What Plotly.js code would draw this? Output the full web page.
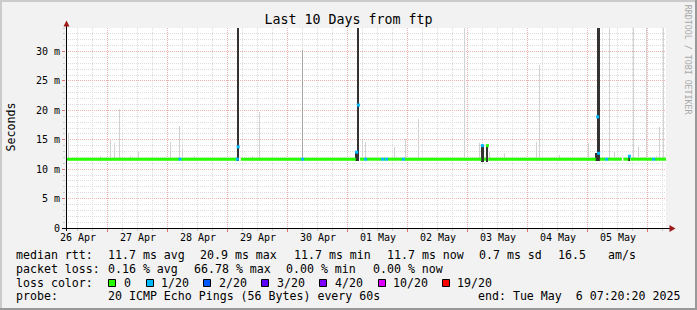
<!DOCTYPE html>
<html><head><meta charset="utf-8">
<script src="https://cdn.plot.ly/plotly-3.0.1.min.js"></script>
<style>html,body{margin:0;padding:0;background:#f2f2f2;overflow:hidden}#chart{width:697px;height:310px}</style>
</head><body><div id="chart"></div>
<script>
// ---------------- data ----------------
const chartTitle = 'Last 10 Days from ftp';
const yTitle = 'Seconds';
const xStart = '2025-04-26 07:20:20';
const xEnd = '2025-05-06 07:20:20';

const dayGridTimes = ['2025-04-27','2025-04-28','2025-04-29','2025-04-30','2025-05-01',
  '2025-05-02','2025-05-03','2025-05-04','2025-05-05','2025-05-06'];
const dayLabelTimes = ['2025-04-26 12:00','2025-04-27 12:00','2025-04-28 12:00','2025-04-29 12:00',
  '2025-04-30 12:00','2025-05-01 12:00','2025-05-02 12:00','2025-05-03 12:00','2025-05-04 12:00','2025-05-05 12:00'];
const dayLabels = ['26 Apr','27 Apr','28 Apr','29 Apr','30 Apr','01 May','02 May','03 May','04 May','05 May'];

const yTickVals = [0, 5, 10, 15, 20, 25, 30];           // ms
const yTickLabels = ['0', '5 m', '10 m', '15 m', '20 m', '25 m', '30 m'];

// median rtt (ms) drawn with 0 loss; null = no value (gap)
const medianTimes = [
  '2025-04-26 07:20:20',
  '2025-04-28 04:34','2025-04-28 04:58','2025-04-28 05:22',
  '2025-04-29 03:41','2025-04-29 04:12','2025-04-29 05:17',
  '2025-04-30 05:36','2025-04-30 06:00','2025-04-30 06:24',
  '2025-05-01 03:17','2025-05-01 04:10','2025-05-01 04:58',
  '2025-05-01 06:48','2025-05-01 07:12','2025-05-01 07:36',
  '2025-05-01 13:36','2025-05-01 14:00','2025-05-01 14:24',
  '2025-05-01 15:12','2025-05-01 15:36','2025-05-01 16:00',
  '2025-05-01 21:53','2025-05-01 22:17','2025-05-01 22:41',
  '2025-05-03 05:29','2025-05-03 05:58','2025-05-03 06:29',
  '2025-05-03 07:24','2025-05-03 07:48','2025-05-03 08:17',
  '2025-05-05 03:17','2025-05-05 04:12','2025-05-05 04:53',
  '2025-05-05 07:12','2025-05-05 07:36','2025-05-05 08:00',
  '2025-05-05 13:41','2025-05-05 14:00','2025-05-05 14:17',
  '2025-05-05 16:17','2025-05-05 16:41','2025-05-05 17:05',
  '2025-05-06 02:00','2025-05-06 02:24','2025-05-06 02:48',
  '2025-05-06 07:20:20'];
const medianValues = [
  11.7,
  11.7,null,11.7,
  11.7,null,11.7,
  11.7,null,11.7,
  11.7,null,11.7,
  11.7,null,11.7,
  11.7,null,11.7,
  11.7,null,11.7,
  11.7,null,11.7,
  11.7,null,11.7,
  11.7,null,11.7,
  11.7,null,11.7,
  11.7,null,11.7,
  11.7,null,11.7,
  11.7,null,11.7,
  11.7,null,11.7,
  11.7];

// isolated median samples and their loss (pings lost of 20)
const medianPointTimes = ['2025-04-28 04:58','2025-04-29 03:53','2025-04-29 04:12','2025-04-30 06:00',
  '2025-05-01 03:36','2025-05-01 04:17','2025-05-01 07:12','2025-05-01 14:00','2025-05-01 15:36',
  '2025-05-01 22:17','2025-05-03 05:53','2025-05-03 07:53','2025-05-05 04:00','2025-05-05 04:24',
  '2025-05-05 07:36','2025-05-05 16:41','2025-05-06 02:24'];
const medianPointValues = [11.7, 11.7, 13.8, 11.7, 12.9, 20.9, 11.7, 11.7, 11.7,
  11.7, 14.0, 14.0, 18.9, 12.7, 11.7, 12.2, 11.7];
const medianPointLoss = [1, 1, 1, 1, 1, 1, 1, 1, 1, 1, 1, 0, 1, 1, 1, 1, 1];

// smoke (spread of the 20 pings), ms
const smokeLightTimes = ['2025-04-26 08:17','2025-04-26 21:05','2025-04-27 01:05','2025-04-27 02:34',
  '2025-04-27 04:34','2025-04-27 09:12','2025-04-27 12:17','2025-04-28 01:12','2025-04-28 04:34',
  '2025-04-28 05:53','2025-04-28 10:34','2025-04-29 09:53','2025-04-29 12:34','2025-05-01 05:53',
  '2025-05-01 06:58','2025-05-01 18:48','2025-05-01 23:12','2025-05-02 04:17','2025-05-02 22:48',
  '2025-05-03 04:34','2025-05-03 08:34','2025-05-03 14:34','2025-05-04 03:36','2025-05-04 04:34',
  '2025-05-04 12:34','2025-05-05 00:10','2025-05-05 08:34','2025-05-05 10:34','2025-05-05 18:17',
  '2025-05-05 20:10','2025-05-05 23:29','2025-05-06 03:22','2025-05-06 04:34','2025-05-06 06:10'];
const smokeLightHigh = [16.2, 12.3, 15.0, 14.4, 20.2, 12.3, 13.0, 14.6, 17.3, 13.5, 12.3, 12.2, 19.7,
  14.9, 14.7, 13.8, 15.2, 18.6, 36, 14.4, 12.9, 12.7, 14.6, 27.7, 12.4, 14.4, 36, 12.9, 36, 13.8, 36,
  12.3, 17.2, 36];
const smokeLightLow = smokeLightHigh.map(() => 11.4);

const smokeMidTimes = ['2025-04-30 05:53'];
const smokeMidHigh = [30.2];
const smokeMidLow = [11.4];

const smokeDarkTimes = ['2025-04-29 04:12','2025-05-01 03:24','2025-05-01 04:10','2025-05-03 05:58',
  '2025-05-03 07:48','2025-05-05 03:24','2025-05-05 04:22','2025-05-05 16:36'];
const smokeDarkHigh = [36, 13.0, 36, 14.1, 14.1, 12.8, 36, 12.4];
const smokeDarkLow = [11.4, 11.4, 11.4, 11.3, 11.3, 11.4, 11.4, 11.4];

// legend
const lossLabels = ['0', '1/20', '2/20', '3/20', '4/20', '10/20', '19/20'];
const lossColors = ['#26ff00', '#00b8ff', '#0059ff', '#5e00ff', '#7e00ff', '#dd00ff', '#ff0000'];
const rttHead = 'median rtt:';
const rttStats = ['11.7 ms avg', '20.9 ms max', '11.7 ms min', '11.7 ms now', '0.7 ms sd', '16.5', 'am/s'];
const lossHead = 'packet loss:';
const lossStats = ['0.16 % avg', '66.78 % max', '0.00 % min', '0.00 % now'];
const colorHead = 'loss color:';
const probeHead = 'probe:';
const probeText = '20 ICMP Echo Pings (56 Bytes) every 60s';
const endText = 'end: Tue May  6 07:20:20 2025';
const watermark = 'RRDTOOL / TOBI OETIKER';

// ---------------- drawing ----------------
const FONT = 'DejaVu Sans Mono';
const L = 66, T = 28, W = 600, H = 200;
const px2x = p => (p - L) / W;
const py2y = p => (T + H - p) / H;
const PX_MS = 1440000; // one pixel of time
const nb = s => s.replace(/ /g, '\u00a0');

const traces = [];
function smoke(times, low, high, color, w) {
  traces.push({type: 'bar', x: times, base: low, y: high.map((h, i) => h - low[i]),
    width: times.map(() => w * PX_MS), marker: {color: color, line: {width: 0}},
    hoverinfo: 'skip'});
}
smoke(smokeLightTimes, smokeLightLow, smokeLightHigh, '#d2d2d2', 1);
smoke(smokeMidTimes, smokeMidLow, smokeMidHigh, '#a6a6a6', 1);
smoke(smokeDarkTimes, smokeDarkLow, smokeDarkHigh, '#333333', 2.3);

traces.push({type: 'scatter', mode: 'lines', x: medianTimes, y: medianValues,
  line: {color: lossColors[0], width: 3}, connectgaps: false, hoverinfo: 'skip'});

lossColors.forEach((c, k) => {
  const xs = [], ys = [];
  medianPointLoss.forEach((l, i) => { if (l === k) { xs.push(medianPointTimes[i]); ys.push(medianPointValues[i]); } });
  if (xs.length) traces.push({type: 'scatter', mode: 'markers', x: xs, y: ys,
    marker: {symbol: 'square', size: 3, color: c, line: {width: 0}}, hoverinfo: 'skip'});
});

const ann = [];
function txt(text, px, py, size, extra) {
  ann.push(Object.assign({text: nb(text), xref: 'paper', yref: 'paper', x: px2x(px), y: py2y(py),
    xanchor: 'left', yanchor: 'middle', showarrow: false, borderpad: 0, borderwidth: 0,
    font: {family: FONT, size: size, color: '#000'}}, extra || {}));
}
dayLabels.forEach((d, i) => ann.push({text: nb(d), xref: 'x', x: dayLabelTimes[i], yref: 'paper',
  y: py2y(237.5), xanchor: 'center', yanchor: 'middle', showarrow: false, borderpad: 0, borderwidth: 0,
  font: {family: FONT, size: 10, color: '#000'}}));

const LF = 11.6;
txt(yTitle, 10.5, 127, LF, {xanchor: 'center', textangle: -90});
txt(watermark, 688.3, 60, 8.3, {xanchor: 'center', textangle: 90, font: {family: FONT, size: 8.3, color: '#a8a8a8'}});

txt(rttHead, 16, 255, LF);
[107.7, 200.3, 294, 386.7, 479, 557.5, 607.7].forEach((x, i) => txt(rttStats[i], x, 255, LF));
txt(lossHead, 16, 268.5, LF);
[107.7, 193.5, 286, 372.7].forEach((x, i) => txt(lossStats[i], x, 268.5, LF));
txt(colorHead, 16, 282.5, LF);
const squareX = [108, 145.7, 203.3, 261, 319, 377.7, 441.7];
const shapes = [];
lossLabels.forEach((lab, i) => {
  txt(lab, squareX[i] + 15.5, 282.5, LF);
  shapes.push({type: 'rect', xref: 'paper', yref: 'paper', x0: px2x(Math.round(squareX[i]) + 0.5),
    x1: px2x(Math.round(squareX[i]) + 7.5), y0: py2y(279.5), y1: py2y(286.5),
    fillcolor: lossColors[i], line: {color: '#000', width: 1}});
});
txt(probeHead, 16, 296, LF);
txt(probeText, 107.7, 296, LF);
txt(endText, 478, 296, LF);

// frame
function prect(x0, y0, x1, y1, c) {
  shapes.push({type: 'rect', xref: 'paper', yref: 'paper', x0: px2x(x0), x1: px2x(x1),
    y0: py2y(y0), y1: py2y(y1), fillcolor: c, line: {width: 0}});
}
prect(0, 0, 697, 2, '#cbcbcb');
prect(0, 0, 2, 310, '#cbcbcb');
prect(0, 308, 697, 310, '#999999');
prect(695, 0, 697, 310, '#999999');
// axes lines + arrows
shapes.push({type: 'line', xref: 'paper', yref: 'paper', x0: px2x(66.5), x1: px2x(66.5), y0: py2y(231), y1: py2y(24), line: {color: '#000', width: 1}});
shapes.push({type: 'line', xref: 'paper', yref: 'paper', x0: px2x(62), x1: px2x(670), y0: py2y(228.5), y1: py2y(228.5), line: {color: '#000', width: 1}});
shapes.push({type: 'path', xref: 'paper', yref: 'paper', fillcolor: '#9e1b1b', line: {width: 0},
  path: `M${px2x(63.5)},${py2y(26.5)} L${px2x(69.5)},${py2y(26.5)} L${px2x(66.5)},${py2y(20.5)} Z`});
shapes.push({type: 'path', xref: 'paper', yref: 'paper', fillcolor: '#9e1b1b', line: {width: 0},
  path: `M${px2x(669.5)},${py2y(225)} L${px2x(669.5)},${py2y(232)} L${px2x(675.5)},${py2y(228.5)} Z`});

const MAJ = '#f3b0b0', MIN = '#dcdcdc', DASH = '1px,1px';
const layout = {
  width: 697, height: 310,
  margin: {l: L, r: 697 - L - W, t: T, b: 310 - T - H, pad: 0},
  paper_bgcolor: '#f2f2f2', plot_bgcolor: '#ffffff',
  showlegend: false, barmode: 'overlay', bargap: 0,
  title: {text: chartTitle, font: {family: FONT, size: 13.3, color: '#000'},
    x: 0.5, xref: 'container', xanchor: 'center', y: 1 - 19.5 / 310, yref: 'container', yanchor: 'middle'},
  xaxis: {type: 'date', range: [xStart, xEnd], tickmode: 'array', tickvals: dayGridTimes,
    showticklabels: false, showgrid: true, gridcolor: MAJ, griddash: DASH, gridwidth: 1,
    ticks: 'outside', ticklen: 3, tickcolor: '#e07070', showline: false, zeroline: false,
    minor: {dtick: 6 * 3600 * 1000, tick0: '2025-04-26', showgrid: true, gridcolor: MIN, griddash: DASH,
      ticks: 'outside', ticklen: 2, tickcolor: '#c8c8c8'},
    fixedrange: true},
  yaxis: {range: [0, 34], tickmode: 'array', tickvals: yTickVals, ticktext: yTickLabels,
    showgrid: true, gridcolor: MAJ, griddash: DASH, gridwidth: 1,
    ticks: 'outside', ticklen: 3, tickcolor: '#e07070', showline: false, zeroline: false,
    tickfont: {family: FONT, size: 10, color: '#000'},
    minor: {dtick: 1, showgrid: true, gridcolor: MIN, griddash: DASH, ticks: 'outside', ticklen: 2, tickcolor: '#c8c8c8'},
    fixedrange: true},
  annotations: ann, shapes: shapes
};
Plotly.newPlot('chart', traces, layout, {staticPlot: true, displayModeBar: false});
</script></body></html>
